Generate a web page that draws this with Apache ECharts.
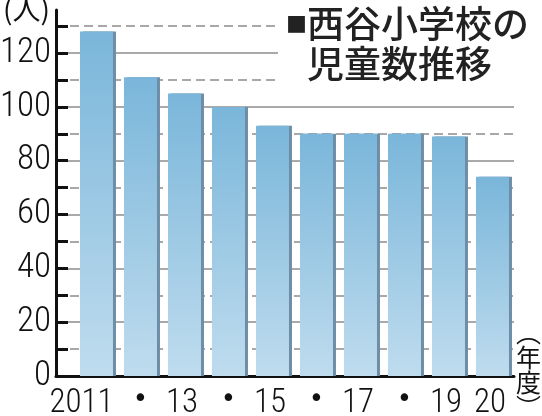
<!DOCTYPE html>
<html>
<head>
<meta charset="utf-8">
<script src="https://cdn.jsdelivr.net/npm/echarts@6/dist/echarts.min.js"></script>
<style>
html,body{margin:0;padding:0;background:#fff;}
#main{width:542px;height:416px;}
</style>
</head>
<body>
<div id="main"></div>
<script>
// ---- data ----
var categories = ['2011', '•', '13', '•', '15', '•', '17', '•', '19', '20'];
var students = [128, 111, 105, 100, 93, 90, 90, 90, 89, 74];
var yLabelTicks = [0, 20, 40, 60, 80, 100, 120];
var majorTicks = [20, 40, 60, 80, 100, 120];
var minorTicks = [10, 30, 50, 70, 90, 110, 130];
var titleLine1 = '西谷小学校の';
var titleLine2 = '児童数推移';
var yUnit = '(人)';
var xUnit = '︵\n年\n度\n︶';

var numFont = '"Roboto Condensed", Roboto, "Liberation Sans", sans-serif';
var cjkFont = '"Noto Sans CJK JP", "Noto Sans", sans-serif';

var barData = students.map(function (v, i) { return [i, v]; });
var catIdx = categories.map(function (c, i) { return i; });

var chart = echarts.init(document.getElementById('main'), null, {renderer: 'canvas'});
chart.setOption({
  animation: false,
  backgroundColor: '#fff',
  title: {
    text: '{sq|■}{t|' + titleLine1 + '}\n{ind|}{t|' + titleLine2 + '}',
    left: 278,
    top: 0,
    padding: [4, 10, 8, 8],
    backgroundColor: '#fff',
    textStyle: {
      rich: {
        sq: {fontSize: 21, width: 21, lineHeight: 40, fontFamily: cjkFont, color: '#222', verticalAlign: 'middle'},
        ind: {width: 21, lineHeight: 40},
        t: {fontSize: 37, lineHeight: 40, fontFamily: cjkFont, color: '#222', fontWeight: 500}
      }
    }
  },
  grid: {left: 56, right: 28, top: 10, bottom: 40, containLabel: false, outerBoundsMode: 'none'},
  xAxis: {
    type: 'value',
    min: -0.92,
    max: 9.489,
    splitLine: {show: false},
    axisTick: {show: false},
    axisLine: {show: true, onZero: false, lineStyle: {color: '#111', width: 3}},
    axisLabel: {
      customValues: catIdx,
      margin: 11,
      color: '#111',
      hideOverlap: false,
      formatter: function (v) {
        var c = categories[Math.round(v)];
        if (c === undefined) return '';
        if (Math.round(v) === 0) return '{first|' + c + '}';
        if (c === '•') return '{dot|' + c + '}';
        return '{n|' + c + '}';
      },
      rich: {
        first: {fontFamily: numFont, fontSize: 33, fontWeight: 300, color: '#111', padding: [0, 30, 0, 0]},
        n: {fontFamily: numFont, fontSize: 33, fontWeight: 300, color: '#111', padding: [0, 5, 0, 0]},
        dot: {fontFamily: '"DejaVu Sans", sans-serif', fontSize: 26, color: '#111'}
      }
    }
  },
  yAxis: [
    {
      type: 'value', min: 0, max: 136, position: 'left',
      axisLine: {show: true, onZero: false, lineStyle: {color: '#111', width: 3}},
      axisTick: {show: true, inside: true, length: 12, customValues: majorTicks, lineStyle: {color: '#111', width: 3}},
      splitLine: {show: true, lineStyle: {color: '#8c8c8c', width: 1.5}},
      axisLabel: {customValues: yLabelTicks, margin: 5, color: '#111', fontFamily: numFont, fontWeight: 300, fontSize: 35}
    },
    {
      type: 'value', min: 0, max: 136, position: 'left', offset: 0,
      axisLine: {show: false, onZero: false},
      axisTick: {show: true, inside: true, length: 12, customValues: minorTicks, lineStyle: {color: '#111', width: 3}},
      splitLine: {show: true, lineStyle: {color: '#8c8c8c', width: 1.5, type: [9, 5]}},
      axisLabel: {show: false}
    }
  ],
  graphic: [
    {type: 'text', left: 3, top: -5, style: {text: yUnit, font: '28px ' + cjkFont, fill: '#111'}},
    {type: 'text', left: 516, top: 320, style: {text: xUnit, font: '25px ' + cjkFont, fill: '#111', lineHeight: 25}}
  ],
  series: [{
    type: 'bar',
    yAxisIndex: 0,
    data: barData,
    barWidth: 33,
    itemStyle: {
      color: new echarts.graphic.LinearGradient(0, 0, 0, 1, [
        {offset: 0, color: '#7ab6da'},
        {offset: 1, color: '#bfdcee'}
      ]),
      shadowColor: '#6d8ea6',
      shadowOffsetX: 3,
      shadowOffsetY: 0,
      shadowBlur: 0
    }
  }]
});
</script>
</body>
</html>
